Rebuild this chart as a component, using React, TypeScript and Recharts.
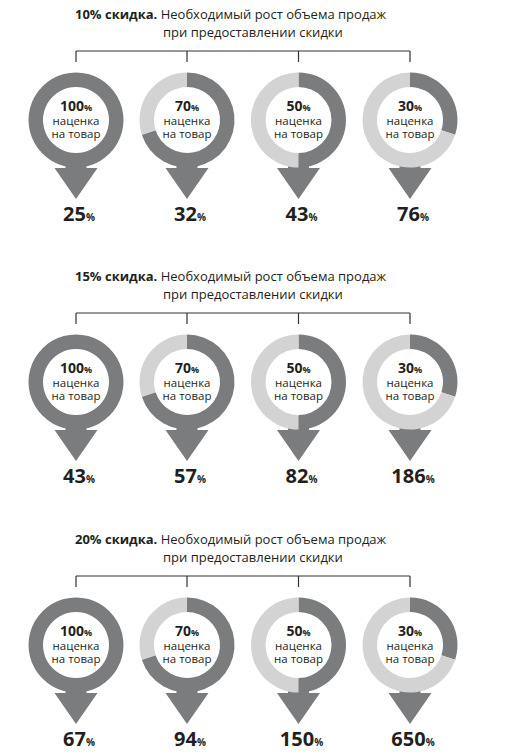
import { PieChart, Pie, Cell } from 'recharts';

const markups = [100, 70, 50, 30];
const discounts = [10, 15, 20];
const growth10 = [25, 32, 43, 76];
const growth15 = [43, 57, 82, 186];
const growth20 = [67, 94, 150, 650];
const growthBySection = [growth10, growth15, growth20];

const titleRest = 'Необходимый рост объема продаж';
const titleLine2 = 'при предоставлении скидки';
const markupLine1 = 'наценка';
const markupLine2 = 'на товар';

// layout
const W = 521;
const H = 756;
const colX = [76, 187, 298.5, 410];
const rowY = [120, 382, 645];
const DARK = '#7b7c7e';
const LIGHT = '#d3d3d3';
const INK = '#231f20';
const FONT = '"Open Sans", "DejaVu Sans", sans-serif';

function arrowPath(cx: number, cy: number) {
  return `M${cx - 10.5},${cy + 34} H${cx + 10.5} V${cy + 48} H${cx + 21.5} L${cx},${cy + 79} L${cx - 21.5},${cy + 48} H${cx - 10.5} Z`;
}

export default function App() {
  return (
    <div style={{ position: 'absolute', left: 0, top: 0, background: '#fff' }}>
      <PieChart width={W} height={H} margin={{ top: 0, right: 0, bottom: 0, left: 0 }}>
        {rowY.map((cy, r) =>
          markups.map((m, i) => (
            <Pie
              key={`pie-${r}-${i}`}
              data={[
                { name: 'markup', value: m },
                { name: 'rest', value: 100 - m },
              ]}
              dataKey="value"
              cx={colX[i]}
              cy={cy}
              innerRadius={33}
              outerRadius={47.5}
              startAngle={90}
              endAngle={-270}
              stroke="none"
              strokeWidth={0}
              isAnimationActive={false}
            >
              <Cell fill={DARK} stroke="none" strokeWidth={0} />
              <Cell fill={LIGHT} stroke="none" strokeWidth={0} />
            </Pie>
          ))
        )}

        {rowY.map((cy, r) => (
          <g key={`deco-${r}`} fontFamily={FONT}>
            <text x={75} y={cy - 101} fontSize={13} fill={INK}>
              <tspan fontWeight={700}>{`${discounts[r]}% скидка.`}</tspan>
              <tspan>{` ${titleRest}`}</tspan>
            </text>
            <text x={163} y={cy - 83} fontSize={13} fill={INK}>
              {titleLine2}
            </text>
            <path
              d={`M${colX[0]},${cy - 69} H${colX[3]} ${colX
                .map((x) => `M${x},${cy - 69} V${cy - 58}`)
                .join(' ')}`}
              stroke="#333"
              strokeWidth={1.2}
              fill="none"
            />
            {colX.map((cx, i) => (
              <g key={`col-${r}-${i}`}>
                <path d={arrowPath(cx, cy)} fill={DARK} />
                <text x={cx} y={cy - 9} textAnchor="middle" fontSize={14} fontWeight={700} fill={INK}>
                  {markups[i]}
                  <tspan fontSize={9}>%</tspan>
                </text>
                <text x={cx} y={cy + 5} textAnchor="middle" fontSize={11.5} fill={INK}>
                  {markupLine1}
                </text>
                <text x={cx} y={cy + 18} textAnchor="middle" fontSize={11.5} fill={INK}>
                  {markupLine2}
                </text>
                <text x={cx + 3} y={cy + 101} textAnchor="middle" fontSize={20} fontWeight={700} fill={INK}>
                  {growthBySection[r][i]}
                  <tspan fontSize={10}>%</tspan>
                </text>
              </g>
            ))}
          </g>
        ))}
      </PieChart>
    </div>
  );
}
